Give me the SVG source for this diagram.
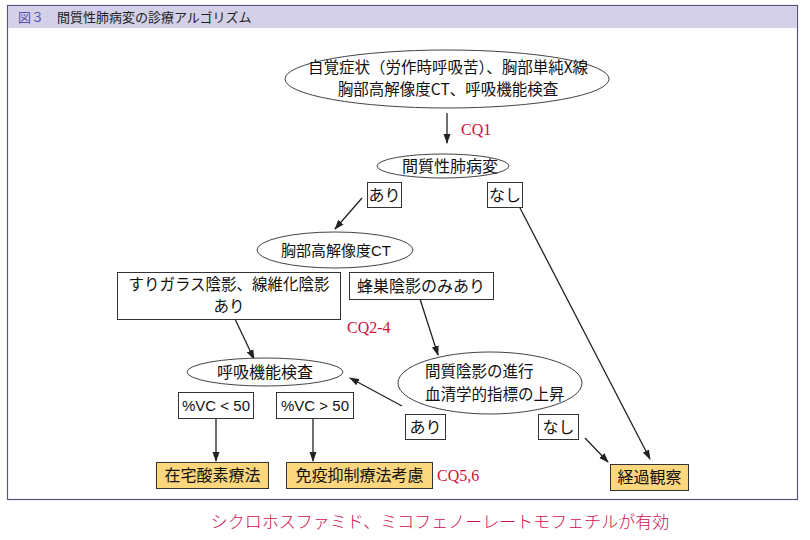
<svg xmlns="http://www.w3.org/2000/svg" width="810" height="540" viewBox="0 0 810 540">
<style>
.t{font-family:"Noto Sans CJK JP","Noto Sans",sans-serif;font-size:16px;fill:#111;text-anchor:middle}
.t2{font-family:"Noto Sans CJK JP","Noto Sans",sans-serif;font-size:15.5px;fill:#111;text-anchor:middle}
.s{font-family:"Liberation Sans","Noto Sans CJK JP",sans-serif;font-size:15px;fill:#111;text-anchor:middle}
.cq{font-family:"Liberation Serif",serif;font-size:16px;fill:#d0103a}
.box{fill:#fff;stroke:#333;stroke-width:1}
.yel{fill:#fdd77e;stroke:#333;stroke-width:1}
.el{fill:#fff;stroke:#444;stroke-width:1}
.ln{stroke:#222;stroke-width:1.3;fill:none;marker-end:url(#ah)}
</style>
<defs>
<marker id="ah" markerUnits="userSpaceOnUse" markerWidth="10" markerHeight="8" refX="9" refY="4" orient="auto">
<path d="M0,0.5 L10,4 L0,7.5 Z" fill="#222"/>
</marker>
</defs>
<rect width="810" height="540" fill="#fff"/>
<g id="frame">
<rect x="7.5" y="5.5" width="790" height="494" fill="#fff" stroke="#5a5480" stroke-width="1.2"/>
<rect x="8" y="6" width="789" height="22" fill="#d3d0e8"/>
<text x="18" y="22" font-family="Noto Sans CJK JP,sans-serif" font-size="13" fill="#5a50b0">図３</text>
<text x="57" y="22" font-family="Noto Sans CJK JP,sans-serif" font-size="13" fill="#222">間質性肺病変の診療アルゴリズム</text>
</g>
<g id="connectors">
<line class="ln" x1="447" y1="113" x2="447" y2="143"/>
<line class="ln" x1="362" y1="198" x2="335" y2="229"/>
<line class="ln" x1="520" y1="208" x2="650" y2="459"/>
<line class="ln" x1="235" y1="319" x2="254" y2="359"/>
<line class="ln" x1="420" y1="299" x2="438" y2="355"/>
<line class="ln" x1="402" y1="406" x2="350" y2="378"/>
<line class="ln" x1="216" y1="418" x2="216" y2="461"/>
<line class="ln" x1="313" y1="418" x2="313" y2="461"/>
<line class="ln" x1="585" y1="438" x2="608" y2="462"/>
</g>
<g id="n-top">
<ellipse class="el" cx="447" cy="79" rx="162" ry="29"/>
<text class="t2" x="448" y="73">自覚症状（労作時呼吸苦）、胸部単純X線</text>
<text class="t2" x="448" y="95">胸部高解像度CT、呼吸機能検査</text>
</g>
<text id="cq1" class="cq" x="461" y="135">CQ1</text>
<g id="n-ild">
<ellipse class="el" cx="443" cy="166" rx="66" ry="12"/>
<text class="t" x="450" y="172">間質性肺病変</text>
</g>
<g id="n-ari1"><rect class="box" x="367.5" y="182.5" width="34" height="25"/><text class="t" x="384.5" y="201">あり</text></g>
<g id="n-nashi1"><rect class="box" x="487.5" y="182.5" width="35" height="25"/><text class="t" x="505" y="201">なし</text></g>
<g id="n-hrct">
<ellipse class="el" cx="335" cy="250" rx="78" ry="18"/>
<text class="s" x="336" y="256">胸部高解像度CT</text>
</g>
<g id="n-ggo">
<rect class="box" x="117.5" y="272.5" width="223" height="47"/>
<text class="t2" x="229" y="290">すりガラス陰影、線維化陰影</text>
<text class="t2" x="229" y="312">あり</text>
</g>
<g id="n-honey">
<rect class="box" x="349.5" y="272.5" width="144" height="27"/>
<text class="t" x="421" y="292">蜂巣陰影のみあり</text>
</g>
<text id="cq24" class="cq" x="347" y="333">CQ2-4</text>
<g id="n-pft">
<ellipse class="el" cx="265" cy="372" rx="78" ry="14"/>
<text class="t" x="265" y="378">呼吸機能検査</text>
</g>
<g id="n-prog">
<ellipse class="el" cx="490" cy="383" rx="92" ry="31"/>
<text class="t2" x="425" y="377" style="text-anchor:start">間質陰影の進行</text>
<text class="t2" x="425" y="400" style="text-anchor:start">血清学的指標の上昇</text>
</g>
<g id="n-vc1"><rect class="box" x="178.5" y="392.5" width="75" height="26"/><text class="s" x="216" y="411">%VC &lt; 50</text></g>
<g id="n-vc2"><rect class="box" x="276.5" y="392.5" width="77" height="26"/><text class="s" x="315" y="411">%VC &gt; 50</text></g>
<g id="n-ari2"><rect class="box" x="405.5" y="414.5" width="40" height="25"/><text class="t" x="425.5" y="433">あり</text></g>
<g id="n-nashi2"><rect class="box" x="538.5" y="414.5" width="40" height="25"/><text class="t" x="558.5" y="433">なし</text></g>
<g id="n-hot"><rect class="yel" x="156.5" y="462.5" width="112" height="26"/><text class="t" x="212.5" y="481">在宅酸素療法</text></g>
<g id="n-imm"><rect class="yel" x="286.5" y="462.5" width="146" height="26"/><text class="t" x="359.5" y="481">免疫抑制療法考慮</text></g>
<text id="cq56" class="cq" x="437" y="481">CQ5,6</text>
<g id="n-obs"><rect class="yel" x="610.5" y="464.5" width="78" height="26"/><text class="t" x="649.5" y="483">経過観察</text></g>
<text id="footer" x="440" y="528" font-family="Noto Sans CJK JP,sans-serif" font-size="17" font-weight="300" fill="#d0104c" text-anchor="middle">シクロホスファミド、ミコフェノーレートモフェチルが有効</text>
</svg>
